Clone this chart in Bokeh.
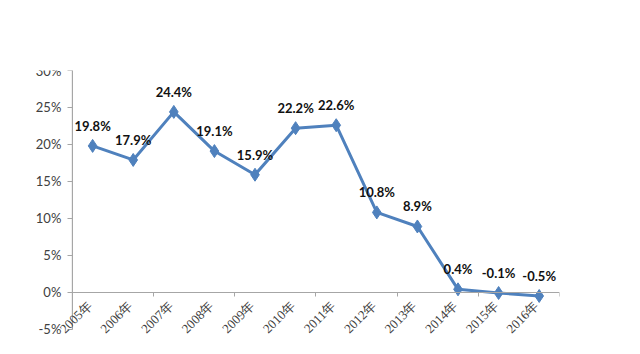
from bokeh.plotting import figure
from bokeh.models import FixedTicker, ColumnDataSource, Range1d, LabelSet
from bokeh.embed import file_html
from bokeh.resources import INLINE
from bokeh.core.properties import value
import math

years = ["2005年", "2006年", "2007年", "2008年", "2009年", "2010年",
         "2011年", "2012年", "2013年", "2014年", "2015年", "2016年"]
growth = [19.8, 17.9, 24.4, 19.1, 15.9, 22.2, 22.6, 10.8, 8.9, 0.4, -0.1, -0.5]
y_ticks = [-5, 0, 5, 10, 15, 20, 25, 30]

xpos = [i + 0.5 for i in range(len(years))]
labels = [f"{v:.1f}%" for v in growth]
src = ColumnDataSource(dict(x=xpos, y=growth, lab=labels))
cat_src = ColumnDataSource(dict(x=xpos, y=[0] * len(years), lab=years))

FONT = "Lato, 'Noto Sans CJK SC', sans-serif"
AXIS_COLOR = "#A6A6A6"

p = figure(width=640, height=354, output_backend="svg", toolbar_location=None,
           x_range=Range1d(-1.03, len(years)), y_range=Range1d(-7.2, 30),
           min_border_left=30, min_border_right=81, min_border_top=70, min_border_bottom=9)
p.outline_line_color = None
p.xgrid.grid_line_color = None
p.ygrid.grid_line_color = None

# y axis placed at x = 0 (inside the frame, so its labels are not clipped)
p.yaxis.fixed_location = 0
p.yaxis.bounds = (y_ticks[0], y_ticks[-1])
p.yaxis.ticker = FixedTicker(ticks=y_ticks)
p.yaxis.major_label_overrides = {t: f"{t}%" for t in y_ticks}
p.yaxis.axis_line_color = AXIS_COLOR
p.yaxis.major_tick_line_color = AXIS_COLOR
p.yaxis.major_tick_out = 5
p.yaxis.major_tick_in = 0
p.yaxis.minor_tick_line_color = None
p.yaxis.major_label_text_font = FONT
p.yaxis.major_label_text_font_size = "13px"
p.yaxis.major_label_text_color = "#404040"
p.yaxis.major_label_standoff = 6

# vertical axis line drawn as a glyph as well
p.segment(x0=[0], y0=[y_ticks[0]], x1=[0], y1=[y_ticks[-1]],
          line_color=AXIS_COLOR, line_width=1)

# x axis at y = 0 (line + ticks), labels drawn separately
p.xaxis.fixed_location = 0
p.xaxis.bounds = (0, len(years))
p.xaxis.ticker = FixedTicker(ticks=[], minor_ticks=list(range(0, len(years) + 1, 2)))
p.xaxis.major_label_text_font_size = "0px"
p.xaxis.major_tick_line_color = None
p.xaxis.minor_tick_line_color = AXIS_COLOR
p.xaxis.minor_tick_out = 4
p.xaxis.minor_tick_in = 0
p.xaxis.axis_line_color = AXIS_COLOR

cat_labels = LabelSet(x="x", y="y", text="lab", source=cat_src, angle=math.pi / 4,
                      x_offset=-3, y_offset=-11, text_align="right", text_baseline="middle",
                      text_font=FONT, text_font_size="13px", text_color="#404040")
p.add_layout(cat_labels)

p.line("x", "y", source=src, line_color="#4F81BD", line_width=3)
p.scatter("x", "y", source=src, marker="diamond", size=13, fill_color="#4F81BD",
          line_color="#4F81BD")
p.text("x", "y", text="lab", source=src, y_offset=-12, text_align="center",
       text_baseline="bottom", text_font=value("Lato"), text_font_style="bold",
       text_font_size="13px", text_color="#111111")

open("out.html", "w").write(file_html(p, INLINE))
